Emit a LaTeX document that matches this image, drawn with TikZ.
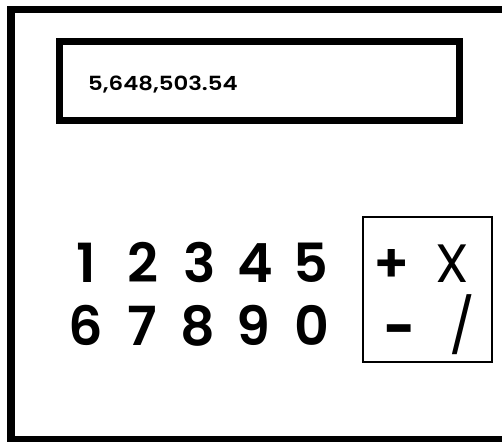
\documentclass[tikz,border=0pt]{standalone}
\usepackage{fontspec}
\setmainfont{Poppins}
\newfontfamily\popsb{Poppins SemiBold}
\newfontfamily\popsbw[FakeStretch=1.17]{Poppins SemiBold}
\begin{document}
\begin{tikzpicture}[x=1pt,y=-1pt,
  digit/.style={anchor=base,inner sep=0pt,font=\fontsize{54}{54}\popsb},
  opbold/.style={anchor=base,inner sep=0pt,font=\fontsize{54}{54}\popsb},
  opheavy/.style={anchor=base,inner sep=0pt,font=\fontsize{54}{54}\selectfont\bfseries},
  oplight/.style={anchor=base,inner sep=0pt,font=\fontsize{54}{54}\selectfont},
  disptext/.style={anchor=base west,inner sep=0pt,font=\fontsize{19.5}{19.5}\popsbw}]
\useasboundingbox (0,0) rectangle (502,441);
\clip (0,0) rectangle (502,441);
\draw[line width=7.5pt] (11,9.5) rectangle (540,439.5);
\draw[line width=6.7pt] (59.3,41.7) rectangle (459.3,120.7);
\node[disptext] (disp) at (88,91) {5,648,503.54};
\node[digit] (d1) at (86,282) {1};
\node[digit] (d2) at (143,282) {2};
\node[digit] (d3) at (200,282) {3};
\node[digit] (d4) at (255,282) {4};
\node[digit] (d5) at (311,282) {5};
\node[digit] (d6) at (86,345) {6};
\node[digit] (d7) at (142,345) {7};
\node[digit] (d8) at (198,345) {8};
\node[digit] (d9) at (253,345) {9};
\node[digit] (d0) at (312,345) {0};
\draw[line width=1.5pt] (363,217) rectangle (492,362);
\node[opbold] (plus) at (392,282) {+};
\node[oplight] (times) at (452.5,282) {X};
\node[opheavy] (minus) at (400.5,347) {-};
\node[oplight] (div) at (462,345) {/};
\end{tikzpicture}
\end{document}
